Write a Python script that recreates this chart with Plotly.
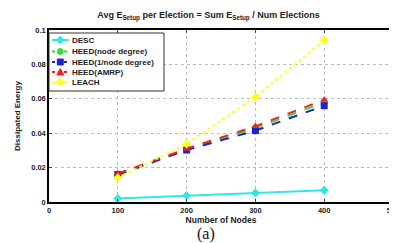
import plotly.graph_objects as go

nodes = [100, 200, 300, 400]
desc = [0.0020, 0.0038, 0.0052, 0.0068]
heed_nd = [0.0155, 0.0305, 0.0430, 0.0580]
heed_inv = [0.0160, 0.0302, 0.0415, 0.0560]
heed_amrp = [0.0165, 0.0310, 0.0440, 0.0595]
leach = [0.0140, 0.0337, 0.0610, 0.0940]

x_ticks = [0, 100, 200, 300, 400, 500]
y_ticks = [0, 0.02, 0.04, 0.06, 0.08, 0.1]
y_tick_text = ["0", "0.02", "0.04", "0.06", "0.08", "0.1"]

series = [
    ("DESC", desc, "#33e6e6", "solid", "diamond"),
    ("HEED(node degree)", heed_nd, "#33dd33", "dash", "circle"),
    ("HEED(1/node degree)", heed_inv, "#2222cc", "dash", "square"),
    ("HEED(AMRP)", heed_amrp, "#ee2222", "dash", "triangle-up"),
    ("LEACH", leach, "#ffff22", "dot", "diamond"),
]

# plot-area geometry (pixels) used to place the hand-drawn legend
L, R, T, B = 41, 6, 22, 49
W, H = 397, 243
PW, PH = W - L - R, H - T - B


def px(x):
    return (x - L) / PW


def py(y):
    return (H - B - y) / PH


fig = go.Figure()
for name, vals, color, dash, sym in series:
    fig.add_trace(go.Scatter(
        x=nodes, y=vals, name=name, mode="lines+markers",
        line=dict(color=color, width=2, dash=dash),
        marker=dict(color=color, size=7, symbol=sym),
        showlegend=False,
    ))

fam = "Liberation Sans, Arial, sans-serif"

# legend box
shapes = [dict(type="rect", xref="paper", yref="paper",
               x0=px(41), x1=px(158), y0=py(83), y1=py(25),
               line=dict(color="#333", width=1), fillcolor="white", layer="above")]
annotations = []
row_y = [32, 43.5, 54, 64, 74]
for (name, vals, color, dash, sym), ry in zip(series, row_y):
    shapes.append(dict(type="line", xref="paper", yref="paper",
                       x0=px(44), x1=px(61), y0=py(ry), y1=py(ry),
                       line=dict(color=color, width=2, dash="solid" if dash == "solid" else "dot"),
                       layer="above"))
    cx, r = 52.5, 3
    if sym == "circle":
        shapes.append(dict(type="circle", xref="paper", yref="paper",
                           x0=px(cx - r), x1=px(cx + r), y0=py(ry + r), y1=py(ry - r),
                           fillcolor=color, line=dict(color=color, width=1), layer="above"))
    elif sym == "square":
        shapes.append(dict(type="rect", xref="paper", yref="paper",
                           x0=px(cx - r), x1=px(cx + r), y0=py(ry + r), y1=py(ry - r),
                           fillcolor=color, line=dict(color=color, width=1), layer="above"))
    elif sym == "triangle-up":
        path = "M {} {} L {} {} L {} {} Z".format(
            px(cx - r - 0.5), py(ry + r), px(cx + r + 0.5), py(ry + r), px(cx), py(ry - r - 0.5))
        shapes.append(dict(type="path", xref="paper", yref="paper", path=path,
                           fillcolor=color, line=dict(color=color, width=1), layer="above"))
    else:
        rr = r + 1
        path = "M {} {} L {} {} L {} {} L {} {} Z".format(
            px(cx - rr), py(ry), px(cx), py(ry - rr), px(cx + rr), py(ry), px(cx), py(ry + rr))
        shapes.append(dict(type="path", xref="paper", yref="paper", path=path,
                           fillcolor=color, line=dict(color=color, width=1), layer="above"))
    annotations.append(dict(text="<b>" + name + "</b>", xref="paper", yref="paper",
                            x=px(62), y=py(ry), xanchor="left", yanchor="middle",
                            showarrow=False, font=dict(family=fam, size=8, color="#222")))

annotations.append(dict(
    text="(a)", xref="paper", yref="paper", x=px(201), y=py(226),
    xanchor="center", yanchor="middle", showarrow=False,
    font=dict(family="Liberation Serif, Times New Roman, serif", size=16, color="#111"),
))

fig.update_layout(
    width=W, height=H,
    margin=dict(l=L, r=R, t=T, b=B),
    paper_bgcolor="white", plot_bgcolor="white",
    title=dict(
        text="<b>Avg E<sub>Setup</sub> per Election = Sum E<sub>Setup</sub> / Num Elections</b>",
        x=0.505, xanchor="center", y=0.985, yanchor="top",
        font=dict(family=fam, size=9, color="#222"),
    ),
    showlegend=False,
    shapes=shapes,
    annotations=annotations,
    font=dict(family=fam, size=7, color="#222"),
)
fig.update_xaxes(
    range=[0, 500], tickvals=x_ticks, ticktext=["<b>%d</b>" % v for v in x_ticks],
    ticks="inside", ticklen=3,
    showline=True, linecolor="black", linewidth=1.5, mirror="ticks",
    showgrid=True, gridcolor="#bbbbbb", griddash="dot", gridwidth=1,
    zeroline=False,
    tickfont=dict(size=7.5),
    title=dict(text="<b>Number of Nodes</b>", font=dict(size=8.5), standoff=0),
)
fig.update_yaxes(
    range=[0, 0.1], tickvals=y_ticks, ticktext=["<b>%s</b>" % t for t in y_tick_text],
    ticks="inside", ticklen=3,
    showline=True, linecolor="black", linewidth=1.5, mirror="ticks",
    showgrid=True, gridcolor="#bbbbbb", griddash="dot", gridwidth=1,
    zeroline=False,
    tickfont=dict(size=7.5),
    title=dict(text="<b>Dissipated Energy</b>", font=dict(size=8), standoff=9),
)
fig.write_html("out.html")
